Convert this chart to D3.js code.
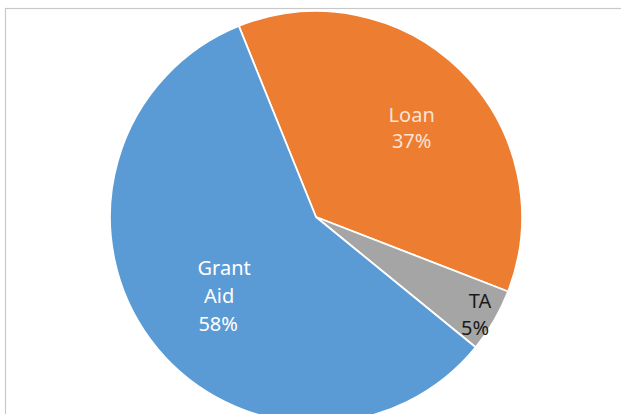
<!DOCTYPE html>
<html>
<head>
<meta charset="utf-8">
<script src="https://cdn.jsdelivr.net/npm/d3@7"></script>
<style>
  html, body { margin: 0; padding: 0; background: #fff; }
  svg { display: block; }
</style>
</head>
<body>
<svg id="chart" width="621" height="414"></svg>
<script>
// Funding split by type (percent of total)
const categories = ["Loan", "TA", "Grant Aid"];
const shares = [37, 5, 58];
const labelLines = [["Loan", "37%"], ["TA", "5%"], ["Grant", "Aid", "58%"]];
const colors = ["#ed7d31", "#a5a5a5", "#5b9bd5"];
const labelColors = ["rgba(255,255,255,0.8)", "#1a1a1a", "#ffffff"];

const svg = d3.select("#chart");

// Chart area frame (only left and top edges fall inside the view)
svg.append("rect")
  .attr("x", 5.5).attr("y", 8.5)
  .attr("width", 700).attr("height", 500)
  .attr("fill", "#fff")
  .attr("stroke", "#c8c8c8")
  .attr("stroke-width", 1.2);

const cx = 316, cy = 217, r = 206;
const rot = -22 * Math.PI / 180;

const pie = d3.pie()
  .sort(null)
  .value(d => d)
  .startAngle(rot)
  .endAngle(rot + 2 * Math.PI);

const arcs = pie(shares);
const arc = d3.arc().innerRadius(0).outerRadius(r);

const g = svg.append("g").attr("transform", `translate(${cx},${cy})`);

g.selectAll("path.slice")
  .data(arcs)
  .join("path")
  .attr("class", "slice")
  .attr("d", arc)
  .attr("fill", (d, i) => colors[i])
  .attr("stroke", "#ffffff")
  .attr("stroke-width", 1.8)
  .attr("stroke-linejoin", "round");

// Label anchors: fraction of radius along the slice bisector, plus a nudge
const labelRadius = [0.62, 0.86, 0.56];
const labelNudge = [[6, 3], [9, 9], [1, 12]];
const lineGap = [26, 27, 28];
const lineShift = [[0, 0], [2, -3], [0, -5, -6]];

arcs.forEach((d, i) => {
  const a = (d.startAngle + d.endAngle) / 2;
  const lx = Math.sin(a) * r * labelRadius[i] + labelNudge[i][0];
  const ly = -Math.cos(a) * r * labelRadius[i] + labelNudge[i][1];
  const lines = labelLines[i];
  const n = lines.length;
  const t = g.append("text")
    .attr("text-anchor", "middle")
    .attr("font-family", "'Noto Sans', 'Open Sans', sans-serif")
    .attr("font-size", 20)
    .attr("fill", labelColors[i]);
  lines.forEach((s, k) => {
    t.append("tspan")
      .attr("x", lx + lineShift[i][k])
      .attr("y", ly + (k - (n - 1) / 2) * lineGap[i] + 6)
      .text(s);
  });
});
</script>
</body>
</html>
